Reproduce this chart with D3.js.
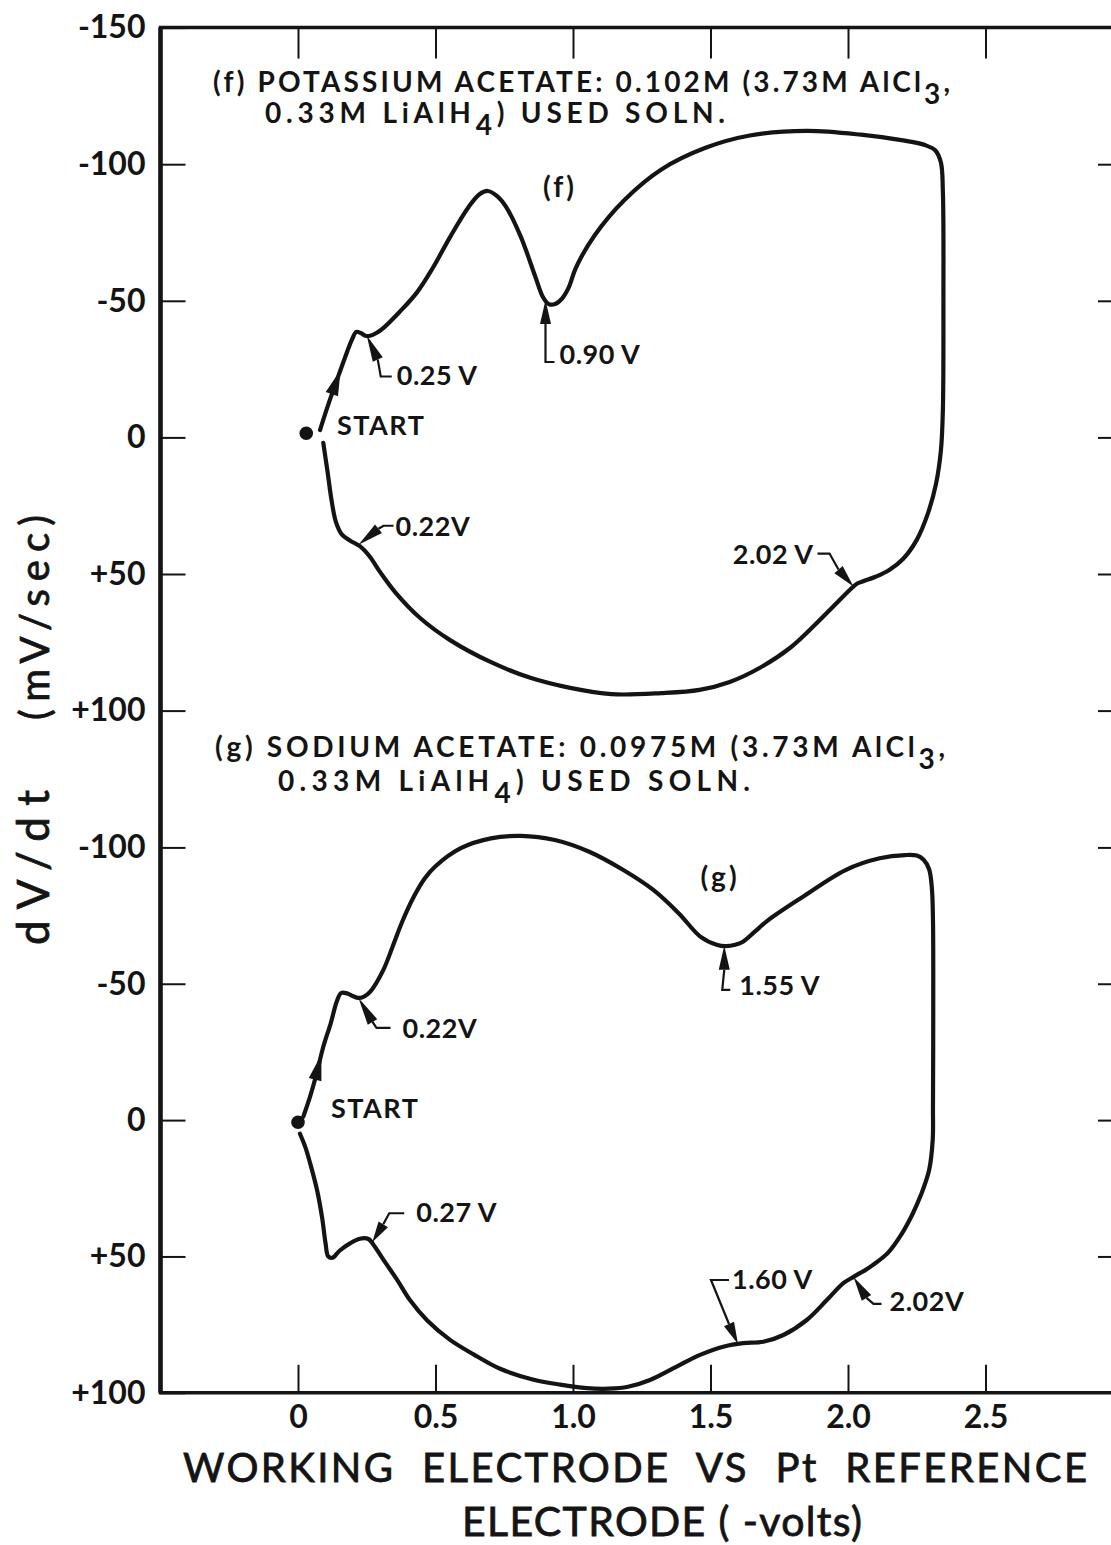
<!DOCTYPE html>
<html>
<head>
<meta charset="utf-8">
<script src="https://cdn.jsdelivr.net/npm/d3@7"></script>
<style>
  html, body { margin: 0; padding: 0; background: #fff; }
  svg { display: block; }
  text { font-family: Lato, "DejaVu Sans", sans-serif; fill: #141414; }
</style>
</head>
<body>
<svg id="chart" width="1111" height="1545"></svg>
<script>
// ---- data -------------------------------------------------------------
// Sweep traces in order of travel: working-electrode potential (-volts vs Pt)
// and the sweep rate dV/dt (mV/sec).
const fPotential = [0.080, 0.110, 0.138, 0.170, 0.195, 0.212, 0.228, 0.245, 0.262, 0.285, 0.310, 0.370, 0.432, 0.490, 0.554, 0.621, 0.660, 0.690, 0.722, 0.756, 0.810, 0.863, 0.890, 0.912, 0.935, 0.960, 0.985, 1.010, 1.079, 1.188, 1.320, 1.482, 1.643, 1.850, 2.047, 2.200, 2.280, 2.318, 2.338, 2.345, 2.347, 2.345, 2.338, 2.320, 2.290, 2.250, 2.200, 2.150, 2.100, 2.060, 2.035, 2.010, 1.960, 1.880, 1.790, 1.680, 1.570, 1.460, 1.320, 1.140, 0.990, 0.845, 0.700, 0.553, 0.444, 0.353, 0.300, 0.260, 0.225, 0.190, 0.160, 0.138, 0.122, 0.108, 0.092];
const fRate = [-2.7, -12, -20, -29, -35.5, -38.6, -38.2, -37.2, -37.2, -38.2, -40, -46, -53, -62, -73.5, -84.4, -89, -90.2, -88.5, -84.5, -73.5, -58.8, -51.5, -48.8, -48.8, -50.8, -55, -62, -74, -87, -98, -106, -110.5, -112.2, -110.8, -108.7, -107, -105, -100.5, -90, -50, -10, 4.6, 17, 28, 37.5, 44.5, 48.5, 51, 52.5, 53.4, 55.5, 60.5, 68.6, 77, 84.3, 89.5, 92.4, 93.6, 94, 91.7, 88, 82.2, 74.2, 66.1, 56.6, 49.5, 43.5, 39.8, 37.8, 35.6, 31, 23, 13, 2];

const gPotential = [0.019, 0.045, 0.068, 0.092, 0.119, 0.141, 0.157, 0.180, 0.201, 0.219, 0.240, 0.262, 0.310, 0.344, 0.380, 0.421, 0.460, 0.499, 0.592, 0.701, 0.810, 0.934, 1.059, 1.183, 1.292, 1.385, 1.463, 1.525, 1.556, 1.590, 1.618, 1.660, 1.711, 1.836, 1.991, 2.115, 2.208, 2.250, 2.275, 2.295, 2.305, 2.309, 2.310, 2.309, 2.308, 2.295, 2.265, 2.233, 2.193, 2.145, 2.091, 2.060, 2.040, 2.020, 1.983, 1.923, 1.850, 1.765, 1.692, 1.619, 1.550, 1.462, 1.377, 1.280, 1.200, 1.130, 1.050, 0.953, 0.850, 0.735, 0.640, 0.553, 0.470, 0.407, 0.360, 0.316, 0.280, 0.256, 0.225, 0.189, 0.150, 0.125, 0.110, 0.100, 0.088, 0.070, 0.050, 0.027, 0.007];
const gRate = [-1.2, -9, -17.2, -26.9, -35.5, -43.5, -46.6, -46.4, -45.4, -44.8, -45.3, -47, -55, -63.6, -73, -81.9, -88.5, -93, -99.7, -103.3, -104.2, -102.7, -98.4, -91.7, -84.4, -75.8, -67.3, -64.2, -63.8, -64.3, -65.4, -69, -73.4, -81.9, -91.7, -96, -97.2, -97, -95.5, -92, -85, -73.4, -40, -5, 7.3, 18.3, 27.5, 34.8, 42.1, 48.7, 53.1, 55.2, 56.3, 57.5, 59.8, 66, 73.3, 78.8, 81.3, 81.8, 83, 86.1, 90.4, 95.3, 97.8, 98.5, 98.3, 97, 95, 91.2, 86, 80.6, 73.5, 66, 58.5, 52, 46.5, 43.6, 43.5, 45.2, 48, 50.5, 50, 45, 36, 26, 18, 10, 5];

// Starting points of each sweep [potential, rate]
const fStart = [0.03, -1.5];
const gStart = [0.0, 0.8];
// Potential at which the direction-of-sweep arrow sits on the rising leg
const fArrowPotential = 0.155;
const gArrowPotential = 0.085;

// Marked features: label, potential, rate
const fNoteLabels = ["0.25 V", "0.90 V", "0.22V", "2.02 V"];
const fNotePotential = [0.25, 0.90, 0.22, 2.02];
const fNoteRate = [-37.3, -50.3, 39.3, 54.6];
const gNoteLabels = ["0.22V", "1.55 V", "0.27 V", "1.60 V", "2.02V"];
const gNotePotential = [0.22, 1.55, 0.27, 1.60, 2.02];
const gNoteRate = [-44.8, -63.9, 44.8, 82.1, 57.5];

// Axis ticks
const xTicks = [0, 0.5, 1.0, 1.5, 2.0, 2.5];
const xTickLabels = ["0", "0.5", "1.0", "1.5", "2.0", "2.5"];
const fTicks = [-150, -100, -50, 0, 50, 100];
const fTickLabels = ["-150", "-100", "-50", "0", "+50", "+100"];
const gTicks = [-100, -50, 0, 50, 100];
const gTickLabels = ["-100", "-50", "0", "+50", "+100"];

// ---- layout -----------------------------------------------------------
const svg = d3.select("#chart");
const x = d3.scaleLinear().domain([-0.5, 3.0]).range([160.5, 1123]);
const yF = d3.scaleLinear().domain([-150, 100]).range([27.6, 710.6]);
const yG = d3.scaleLinear().domain([-100, 100]).range([847.4, 1392.8]);
const frameTop = yF(-150), frameBottom = yG(100);
const ink = "#141414";

// frame
svg.append("path")
  .attr("d", `M${x(3.0)},${frameTop} H${x(-0.5)} V${frameBottom} H${x(3.0)}`)
  .attr("fill", "none").attr("stroke", ink).attr("stroke-width", 3.5);
svg.append("line").attr("x1", x(-0.5)).attr("x2", x(-0.5))
  .attr("y1", frameTop).attr("y2", frameBottom)
  .attr("stroke", ink).attr("stroke-width", 4.5);
svg.append("line").attr("x1", x(3.0)).attr("x2", x(3.0))
  .attr("y1", frameTop).attr("y2", frameBottom)
  .attr("stroke", ink).attr("stroke-width", 3.5);

function styleAxis(g, fontSize) {
  g.select(".domain").remove();
  g.selectAll(".tick line").attr("stroke", ink).attr("stroke-width", 2);
  g.selectAll(".tick text")
    .attr("font-family", "Lato, 'DejaVu Sans', sans-serif")
    .attr("font-size", fontSize).attr("font-weight", 700).attr("fill", ink);
}

// left axes, ticks pointing inward
svg.append("g").attr("transform", `translate(${x(-0.5)},0)`)
  .call(d3.axisLeft(yF).tickValues(fTicks).tickSize(-25).tickSizeOuter(0)
    .tickPadding(15).tickFormat((d, i) => fTickLabels[i]))
  .call(g => styleAxis(g, 32));
svg.append("g").attr("transform", `translate(${x(-0.5)},0)`)
  .call(d3.axisLeft(yG).tickValues(gTicks).tickSize(-25).tickSizeOuter(0)
    .tickPadding(15).tickFormat((d, i) => gTickLabels[i]))
  .call(g => styleAxis(g, 32));
// right ticks
svg.append("g").attr("transform", `translate(${x(3.0)},0)`)
  .call(d3.axisRight(yF).tickValues(fTicks.slice(1)).tickSize(-25).tickSizeOuter(0).tickFormat(""))
  .call(g => styleAxis(g, 32));
svg.append("g").attr("transform", `translate(${x(3.0)},0)`)
  .call(d3.axisRight(yG).tickValues(gTicks.slice(0, -1)).tickSize(-25).tickSizeOuter(0).tickFormat(""))
  .call(g => styleAxis(g, 32));
// top ticks
svg.append("g").attr("transform", `translate(0,${frameTop})`)
  .call(d3.axisTop(x).tickValues(xTicks).tickSize(-31).tickSizeOuter(0).tickFormat(""))
  .call(g => styleAxis(g, 32));
// bottom axis with labels
svg.append("g").attr("transform", `translate(0,${frameBottom})`)
  .call(d3.axisBottom(x).tickValues(xTicks).tickSize(-28).tickSizeOuter(0)
    .tickPadding(12).tickFormat((d, i) => xTickLabels[i]))
  .call(g => styleAxis(g, 32));

// axis titles
svg.append("text").attr("x", 183).attr("y", 1482)
  .attr("font-size", 40).attr("font-weight", 400)
  .attr("word-spacing", 14)
  .attr("textLength", 904).attr("lengthAdjust", "spacing")
  .attr("stroke", ink).attr("stroke-width", 0.8)
  .text("WORKING ELECTRODE VS Pt REFERENCE");
svg.append("text").attr("x", 462).attr("y", 1536)
  .attr("font-size", 41).attr("font-weight", 400)
  .attr("textLength", 400).attr("lengthAdjust", "spacing")
  .attr("stroke", ink).attr("stroke-width", 0.8)
  .text("ELECTRODE ( -volts)");
svg.append("text").attr("transform", "translate(49,945) rotate(-90)")
  .attr("font-size", 44).attr("font-weight", 400)
  .attr("textLength", 155).attr("lengthAdjust", "spacing")
  .attr("stroke", ink).attr("stroke-width", 0.8)
  .text("dV/dt");
svg.append("text").attr("transform", "translate(49,720) rotate(-90)")
  .attr("font-size", 40).attr("font-weight", 400)
  .attr("textLength", 205).attr("lengthAdjust", "spacing")
  .attr("stroke", ink).attr("stroke-width", 0.8)
  .text("(mV/sec)");

// ---- traces -----------------------------------------------------------
const line = d3.line().curve(d3.curveCatmullRom.alpha(0.5));

function drawTrace(pot, rate, yScale) {
  const pts = pot.map((v, i) => [x(v), yScale(rate[i])]);
  svg.append("path").attr("d", line(pts))
    .attr("fill", "none").attr("stroke", ink).attr("stroke-width", 4.2)
    .attr("stroke-linejoin", "round").attr("stroke-linecap", "round");
  return pts;
}

function triangle(tip, base, width) {
  const dx = tip[0] - base[0], dy = tip[1] - base[1];
  const len = Math.hypot(dx, dy) || 1;
  const nx = -dy / len * width / 2, ny = dx / len * width / 2;
  return `M${tip[0]},${tip[1]} L${base[0] + nx},${base[1] + ny} L${base[0] - nx},${base[1] - ny} Z`;
}

// arrow placed along the rising leg, pointing in the direction of travel
function sweepArrow(pot, rate, yScale, at) {
  let i = 0;
  while (i < pot.length - 2 && pot[i + 1] < at) i++;
  const t = (at - pot[i]) / (pot[i + 1] - pot[i]);
  const p = [x(at), yScale(rate[i] + t * (rate[i + 1] - rate[i]))];
  const a = [x(pot[i]), yScale(rate[i])], b = [x(pot[i + 1]), yScale(rate[i + 1])];
  const len = Math.hypot(b[0] - a[0], b[1] - a[1]);
  const ux = (b[0] - a[0]) / len, uy = (b[1] - a[1]) / len;
  const base = [p[0] - ux * 26, p[1] - uy * 26];
  svg.append("path").attr("d", triangle(p, base, 13)).attr("fill", ink);
}

drawTrace(fPotential, fRate, yF);
drawTrace(gPotential, gRate, yG);
sweepArrow(fPotential, fRate, yF, fArrowPotential);
sweepArrow(gPotential, gRate, yG, gArrowPotential);

svg.append("circle").attr("cx", x(fStart[0])).attr("cy", yF(fStart[1])).attr("r", 6.8).attr("fill", ink);
svg.append("circle").attr("cx", x(gStart[0])).attr("cy", yG(gStart[1])).attr("r", 6.8).attr("fill", ink);

// ---- annotations --------------------------------------------------------
// offsets (px) from the arrow tip: arrowhead base, leader polyline, label anchor
const fNoteLayout = [
  { base: [11, 24], leader: [[14, 41], [25, 41]], text: [30, 50], anchor: "start" },
  { base: [0, 24], leader: [[0, 62], [9, 62]], text: [14, 64], anchor: "start" },
  { base: [20, -16], leader: [[25, -19], [35, -19]], text: [37, -9], anchor: "start" },
  { base: [-15, -17], leader: [[-24, -33], [-36, -33]], text: [-40, -23], anchor: "end" }
];
const gNoteLayout = [
  { base: [14, 24], leader: [[18, 30], [32, 30]], text: [44, 40], anchor: "start" },
  { base: [0, 24], leader: [[-2, 44], [6, 44]], text: [15, 49], anchor: "start" },
  { base: [11, -18], leader: [[17, -29], [32, -29]], text: [44, -20], anchor: "start" },
  { base: [-9, -20], leader: [[-27, -64], [-9, -64]], text: [-6, -55], anchor: "start" },
  { base: [13, 21], leader: [[20, 27], [28, 27]], text: [36, 34], anchor: "start" }
];

function drawNotes(labels, pot, rate, yScale, layout) {
  labels.forEach((label, i) => {
    const tip = [x(pot[i]), yScale(rate[i])];
    const L = layout[i];
    const base = [tip[0] + L.base[0], tip[1] + L.base[1]];
    svg.append("path").attr("d", triangle(tip, base, 11)).attr("fill", ink);
    const pts = [base].concat(L.leader.map(d => [tip[0] + d[0], tip[1] + d[1]]));
    svg.append("path").attr("d", d3.line()(pts))
      .attr("fill", "none").attr("stroke", ink).attr("stroke-width", 2.2);
    svg.append("text").attr("x", tip[0] + L.text[0]).attr("y", tip[1] + L.text[1])
      .attr("text-anchor", L.anchor).attr("font-size", 27).attr("font-weight", 700)
      .attr("letter-spacing", 0.5)
      .text(label);
  });
}
drawNotes(fNoteLabels, fNotePotential, fNoteRate, yF, fNoteLayout);
drawNotes(gNoteLabels, gNotePotential, gNoteRate, yG, gNoteLayout);

// START labels and curve names
svg.append("text").attr("x", 337).attr("y", 435).attr("font-size", 27).attr("font-weight", 700)
  .attr("letter-spacing", 1.5).text("START");
svg.append("text").attr("x", 331).attr("y", 1118).attr("font-size", 27).attr("font-weight", 700)
  .attr("letter-spacing", 1.5).text("START");
svg.append("text").attr("x", 560).attr("y", 197).attr("font-size", 28).attr("font-weight", 700)
  .attr("text-anchor", "middle").attr("letter-spacing", 3).text("(f)");
svg.append("text").attr("x", 720).attr("y", 887).attr("font-size", 28).attr("font-weight", 700)
  .attr("text-anchor", "middle").attr("letter-spacing", 3).text("(g)");

// solution descriptions, with lowered subscripts
function heading(xPos, yPos, width, parts) {
  const t = svg.append("text").attr("x", xPos).attr("y", yPos)
    .attr("font-size", 28).attr("font-weight", 700)
    .attr("textLength", width).attr("lengthAdjust", "spacing");
  let shift = 0;
  parts.forEach(p => {
    const target = p.sub ? 12 : 0;
    t.append("tspan").attr("dy", target - shift).text(p.t);
    shift = target;
  });
}
heading(213, 92, 737, [{ t: "(f) POTASSIUM ACETATE: 0.102M (3.73M AlCl" }, { t: "3", sub: true }, { t: "," }]);
heading(265, 123, 460, [{ t: "0.33M LiAlH" }, { t: "4", sub: true }, { t: ") USED SOLN." }]);
heading(215, 757, 730, [{ t: "(g) SODIUM ACETATE: 0.0975M (3.73M AlCl" }, { t: "3", sub: true }, { t: "," }]);
heading(278, 791, 472, [{ t: "0.33M LiAlH" }, { t: "4", sub: true }, { t: ") USED SOLN." }]);
</script>
</body>
</html>
